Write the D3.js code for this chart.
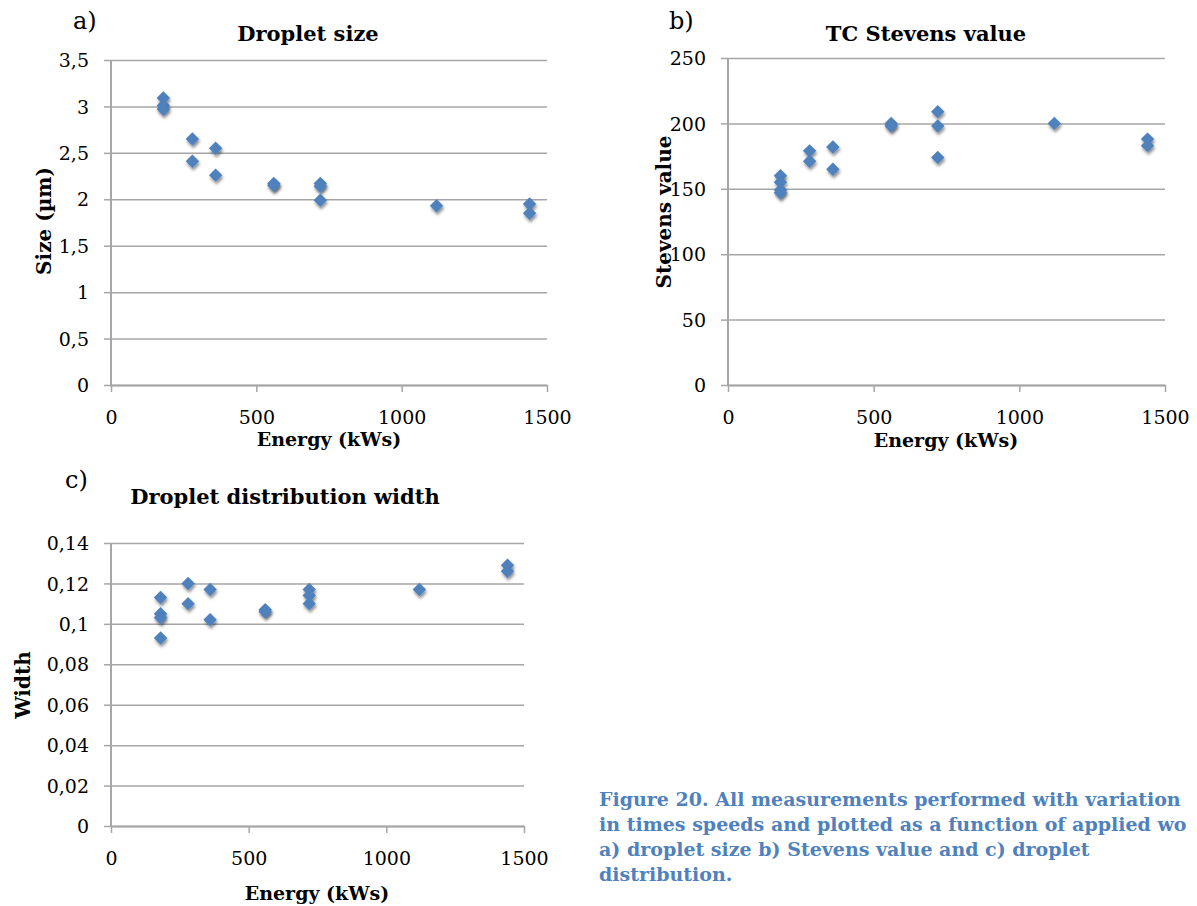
<!DOCTYPE html>
<html>
<head>
<meta charset="utf-8">
<script src="https://cdn.jsdelivr.net/npm/d3@7"></script>
<style>
  body { margin: 0; background: #fff; }
  svg { display: block; }
  text { font-family: "DejaVu Serif", serif; fill: #000; }
</style>
</head>
<body>
<svg id="chart" width="1197" height="906"></svg>
<script>
// Energy (kWs) for every measurement
var energy = [180, 180, 180, 280, 280, 360, 360, 560, 560, 720, 720, 720, 1120, 1440, 1440];
var energyB = [180, 180, 180, 180, 280, 280, 360, 360, 560, 560, 720, 720, 720, 1120, 1440, 1440];
var energyC = [180, 180, 180, 180, 280, 280, 360, 360, 560, 560, 720, 720, 720, 1120, 1440, 1440];

// a) droplet size (um)
var dropletSize = [3.09, 3.01, 2.97, 2.65, 2.41, 2.55, 2.26, 2.17, 2.15, 2.17, 2.14, 1.99, 1.93, 1.95, 1.85];
// b) TC Stevens value
var stevens = [160, 155, 149, 147, 179, 171, 182, 165, 200, 198, 209, 198, 174, 200, 188, 183];
// c) droplet distribution width
var distWidth = [0.113, 0.105, 0.103, 0.093, 0.120, 0.110, 0.117, 0.102, 0.107, 0.106, 0.117, 0.114, 0.110, 0.117, 0.129, 0.126];

var xTicks = [0, 500, 1000, 1500];
var ticksA = [0, 0.5, 1, 1.5, 2, 2.5, 3, 3.5];
var ticksB = [0, 50, 100, 150, 200, 250];
var ticksC = [0, 0.02, 0.04, 0.06, 0.08, 0.1, 0.12, 0.14];

var GRID = "#a6a6a6";
var BLUE = "#4f81bd";

var svg = d3.select("#chart");

// soft shadow under the diamonds
var defs = svg.append("defs");
var f = defs.append("filter").attr("id", "shadow")
	.attr("x", "-50%").attr("y", "-50%").attr("width", "200%").attr("height", "200%");
f.append("feDropShadow")
	.attr("dx", 1).attr("dy", 2.5).attr("stdDeviation", 1.6)
	.attr("flood-color", "#000").attr("flood-opacity", 0.45);

// decimal comma like the original
function comma(d) { return String(d).replace(".", ","); }

function panel(opt)
{
	var g = svg.append("g");
	var x = d3.scaleLinear().domain([0, 1500]).range([opt.left, opt.right]);
	var y = d3.scaleLinear().domain([0, opt.ymax]).range([opt.bottom, opt.top]);

	// gridlines + y ticks
	var ya = g.append("g")
		.attr("transform", "translate(" + opt.left + ",0)")
		.call(d3.axisLeft(y).tickValues(opt.yticks).tickFormat(comma)
			.tickSizeInner(-(opt.right - opt.left)).tickSizeOuter(0).tickPadding(0));
	ya.select(".domain").remove();
	ya.selectAll("line").attr("stroke", GRID).attr("stroke-width", 1.5);
	ya.selectAll(".tick").append("line")
		.attr("x1", -7).attr("x2", 0).attr("stroke", GRID).attr("stroke-width", 1.5);
	ya.selectAll("text")
		.attr("x", opt.ylabRight - opt.left)
		.attr("dy", "0.35em")
		.style("font-size", "19px")
		.style("font-family", "DejaVu Serif")
		.attr("fill", "#000");

	// y axis line
	g.append("line")
		.attr("x1", opt.left).attr("x2", opt.left)
		.attr("y1", opt.top).attr("y2", opt.bottom + 1)
		.attr("stroke", GRID).attr("stroke-width", 2);

	// x axis
	var xa = g.append("g")
		.attr("transform", "translate(0," + opt.bottom + ")")
		.call(d3.axisBottom(x).tickValues(xTicks).tickFormat(d3.format("d"))
			.tickSizeInner(7).tickSizeOuter(0).tickPadding(0));
	xa.select(".domain").attr("stroke", GRID).attr("stroke-width", 2);
	xa.selectAll("line").attr("stroke", GRID).attr("stroke-width", 1.5);
	xa.selectAll("text")
		.attr("y", opt.xlabBase - opt.bottom)
		.attr("dy", 0)
		.style("font-size", "19px")
		.style("font-family", "DejaVu Serif")
		.attr("fill", "#000");

	// markers
	g.selectAll("path.pt")
		.data(opt.ys.map(function(v, i) { return [opt.xs[i], v]; }))
		.enter().append("path")
		.attr("class", "pt")
		.attr("d", d3.symbol().type(d3.symbolDiamond2).size(115))
		.attr("transform", function(d) { return "translate(" + x(d[0]) + "," + y(d[1]) + ")"; })
		.attr("fill", BLUE)
		.attr("filter", "url(#shadow)");

	// labels
	g.append("text").text(opt.letter)
		.attr("x", opt.letterX).attr("y", opt.letterY)
		.style("font-size", "24px");
	g.append("text").text(opt.title)
		.attr("x", opt.titleX).attr("y", opt.titleY)
		.attr("text-anchor", "middle")
		.style("font-size", "21px").style("font-weight", "bold");
	g.append("text").text("Energy (kWs)")
		.attr("x", opt.xtitleX).attr("y", opt.xtitleY)
		.attr("text-anchor", "middle")
		.style("font-size", "19px").style("font-weight", "bold");
	g.append("text").text(opt.ytitle)
		.attr("transform", "translate(" + opt.ytitleX + "," + opt.ytitleY + ") rotate(-90)")
		.attr("text-anchor", "middle")
		.style("font-size", "20px").style("font-weight", "bold");
}

panel({
	left: 111, right: 547, top: 60, bottom: 385, ymax: 3.5, yticks: ticksA,
	xs: energy, ys: dropletSize, ylabRight: 89, xlabBase: 424,
	letter: "a)", letterX: 73, letterY: 29,
	title: "Droplet size", titleX: 308, titleY: 41,
	xtitleX: 329, xtitleY: 446,
	ytitle: "Size (\u00b5m)", ytitleX: 51, ytitleY: 221
});

panel({
	left: 728, right: 1165, top: 58, bottom: 385, ymax: 250, yticks: ticksB,
	xs: energyB, ys: stevens, ylabRight: 706, xlabBase: 424,
	letter: "b)", letterX: 669, letterY: 29,
	title: "TC Stevens value", titleX: 926, titleY: 41,
	xtitleX: 946, xtitleY: 447,
	ytitle: "Stevens value", ytitleX: 671, ytitleY: 212
});

panel({
	left: 111, right: 524, top: 543, bottom: 826, ymax: 0.14, yticks: ticksC,
	xs: energyC, ys: distWidth, ylabRight: 89, xlabBase: 865,
	letter: "c)", letterX: 65, letterY: 488,
	title: "Droplet distribution width", titleX: 285, titleY: 504,
	xtitleX: 317, xtitleY: 900,
	ytitle: "Width", ytitleX: 30, ytitleY: 685
});

// caption (as much as is visible in the original page crop)
var caption = [
	"Figure 20. All measurements performed with variation",
	"in times speeds and plotted as a function of applied wo",
	"a) droplet size b) Stevens value and c) droplet",
	"distribution."
];
svg.append("g").selectAll("text")
	.data(caption)
	.enter().append("text")
	.attr("x", 599)
	.attr("y", function(d, i) { return 806 + i * 25; })
	.text(function(d) { return d; })
	.style("font-size", "19px")
	.style("font-weight", "bold")
	.style("fill", "#4f81bd");
</script>
</body>
</html>
